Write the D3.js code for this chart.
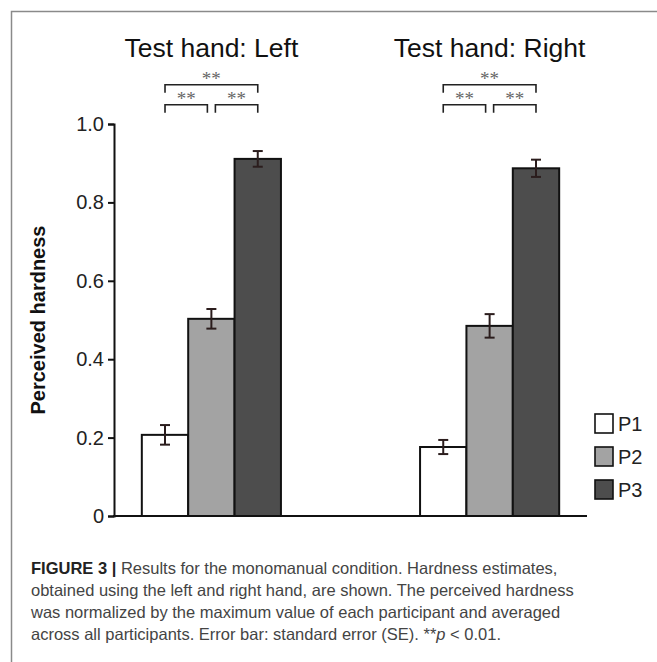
<!DOCTYPE html>
<html>
<head>
<meta charset="utf-8">
<script src="https://cdn.jsdelivr.net/npm/d3@7"></script>
<style>
  body { margin: 0; background: #fff; }
  svg { display: block; font-family: "Liberation Sans", Arial, sans-serif; }
</style>
</head>
<body>
<div id="chart-container"></div>
<script>
// Data
const hands = ["Left", "Right"];
const series = ["P1", "P2", "P3"];
const meanLeft = [0.207, 0.503, 0.911];
const meanRight = [0.176, 0.485, 0.887];
const seLeft = [0.025, 0.025, 0.02];
const seRight = [0.018, 0.03, 0.022];
const yTicks = [0, 0.2, 0.4, 0.6, 0.8, 1.0];
const colors = ["#ffffff", "#a3a3a3", "#4d4d4d"];

const width = 657, height = 662;

const svg = d3.select("#chart-container")
  .append("svg")
  .attr("width", width)
  .attr("height", height);

// frame (top + left)
svg.append("path")
  .attr("d", "M11.5,662 V11.5 H657")
  .attr("fill", "none")
  .attr("stroke", "#8a8a8a")
  .attr("stroke-width", 1.5);

const y = d3.scaleLinear().domain([0, 1]).range([516, 124]);
const x0 = d3.scaleBand().domain(hands).range([114, 587]).paddingInner(0.5).paddingOuter(0.1);
const x1 = d3.scaleBand().domain(series).range([0, x0.bandwidth()]);

const data = hands.map((h, i) => ({
  hand: h,
  values: series.map((s, j) => ({
    key: s,
    mean: i === 0 ? meanLeft[j] : meanRight[j],
    se: i === 0 ? seLeft[j] : seRight[j]
  }))
}));

// bars
const groups = svg.selectAll(".grp")
  .data(data)
  .enter()
  .append("g")
  .attr("class", "grp")
  .attr("transform", d => `translate(${x0(d.hand)},0)`);

groups.selectAll("rect")
  .data(d => d.values)
  .enter()
  .append("rect")
  .attr("x", d => x1(d.key))
  .attr("y", d => y(d.mean))
  .attr("width", x1.bandwidth())
  .attr("height", d => y(0) - y(d.mean))
  .attr("fill", (d, j) => colors[j])
  .attr("stroke", "#111")
  .attr("stroke-width", 2);

// error bars
const eb = groups.selectAll(".err")
  .data(d => d.values)
  .enter()
  .append("g")
  .attr("class", "err")
  .attr("stroke", "#2b1d1d")
  .attr("stroke-width", 2);
eb.append("line")
  .attr("x1", d => x1(d.key) + x1.bandwidth() / 2)
  .attr("x2", d => x1(d.key) + x1.bandwidth() / 2)
  .attr("y1", d => y(d.mean + d.se))
  .attr("y2", d => y(d.mean - d.se));
[1, -1].forEach(sgn => {
  eb.append("line")
    .attr("x1", d => x1(d.key) + x1.bandwidth() / 2 - 5)
    .attr("x2", d => x1(d.key) + x1.bandwidth() / 2 + 5)
    .attr("y1", d => y(d.mean + sgn * d.se))
    .attr("y2", d => y(d.mean + sgn * d.se));
});

// significance brackets
const cx = k => x1(k) + x1.bandwidth() / 2;
const brackets = [
  { a: cx("P1"), b: cx("P3"), level: 1.1 },
  { a: cx("P1"), b: cx("P2") - 4, level: 1.049 },
  { a: cx("P2") + 4, b: cx("P3"), level: 1.049 }
];
brackets.forEach(br => {
  groups.append("path")
    .attr("d", `M${br.a},${y(br.level) + 8} V${y(br.level)} H${br.b} V${y(br.level) + 8}`)
    .attr("fill", "none")
    .attr("stroke", "#222")
    .attr("stroke-width", 1.6);
  groups.append("text")
    .attr("x", (br.a + br.b) / 2)
    .attr("y", y(br.level) + 10)
    .attr("text-anchor", "middle")
    .attr("font-family", "'Liberation Serif', serif")
    .attr("font-size", 19)
    .attr("fill", "#666")
    .attr("dy", "-0.5em")
    .text("**");
});

// group titles
svg.selectAll(".title")
  .data(hands)
  .enter()
  .append("text")
  .attr("x", d => x0(d) + x0.bandwidth() / 2)
  .attr("y", 57)
  .attr("text-anchor", "middle")
  .attr("font-size", 26.5)
  .attr("fill", "#111")
  .text(d => "Test hand: " + d);

// axes
const yAxis = svg.append("g")
  .attr("transform", "translate(114,0)")
  .call(d3.axisLeft(y).tickValues(yTicks).tickSizeOuter(0).tickSize(6)
    .tickFormat(d => d === 0 ? "0" : d3.format(".1f")(d)));
yAxis.select(".domain").attr("stroke", "#111").attr("stroke-width", 2);
yAxis.selectAll(".tick line").attr("stroke", "#111").attr("stroke-width", 2);
yAxis.selectAll(".tick text")
  .attr("font-size", 20)
  .attr("font-family", "'Liberation Sans', Arial, sans-serif")
  .attr("fill", "#222")
  .attr("x", -10);

svg.append("line")
  .attr("x1", 113).attr("x2", 587)
  .attr("y1", y(0)).attr("y2", y(0))
  .attr("stroke", "#111")
  .attr("stroke-width", 2);

svg.append("text")
  .attr("transform", `translate(45,${(y(0) + y(1)) / 2}) rotate(-90)`)
  .attr("text-anchor", "middle")
  .attr("font-size", 20)
  .attr("font-weight", "bold")
  .attr("fill", "#111")
  .text("Perceived hardness");

// legend
const legend = svg.selectAll(".leg")
  .data(series)
  .enter()
  .append("g")
  .attr("class", "leg")
  .attr("transform", (d, i) => `translate(595,${414 + i * 33})`);
legend.append("rect")
  .attr("width", 18).attr("height", 19)
  .attr("fill", (d, i) => colors[i])
  .attr("stroke", "#111")
  .attr("stroke-width", 1.6);
legend.append("text")
  .attr("x", 23).attr("y", 17)
  .attr("font-size", 20)
  .attr("fill", "#222")
  .text(d => d);

// caption
const caption = [
  [["FIGURE 3 | ", true], ["Results for the monomanual condition. Hardness estimates,", false]],
  [["obtained using the left and right hand, are shown. The perceived hardness", false]],
  [["was normalized by the maximum value of each participant and averaged", false]],
  [["across all participants. Error bar: standard error (SE). **", false], ["p", "i"], [" < 0.01.", false]]
];
caption.forEach((line, i) => {
  const t = svg.append("text")
    .attr("x", 31)
    .attr("y", 574 + i * 22)
    .attr("font-size", 16.5)
    .attr("fill", "#444");
  line.forEach(([s, st]) => {
    t.append("tspan")
      .attr("font-weight", st === true ? "bold" : null)
      .attr("font-style", st === "i" ? "italic" : null)
      .attr("fill", st === true ? "#222" : null)
      .text(s);
  });
});
</script>
</body>
</html>
